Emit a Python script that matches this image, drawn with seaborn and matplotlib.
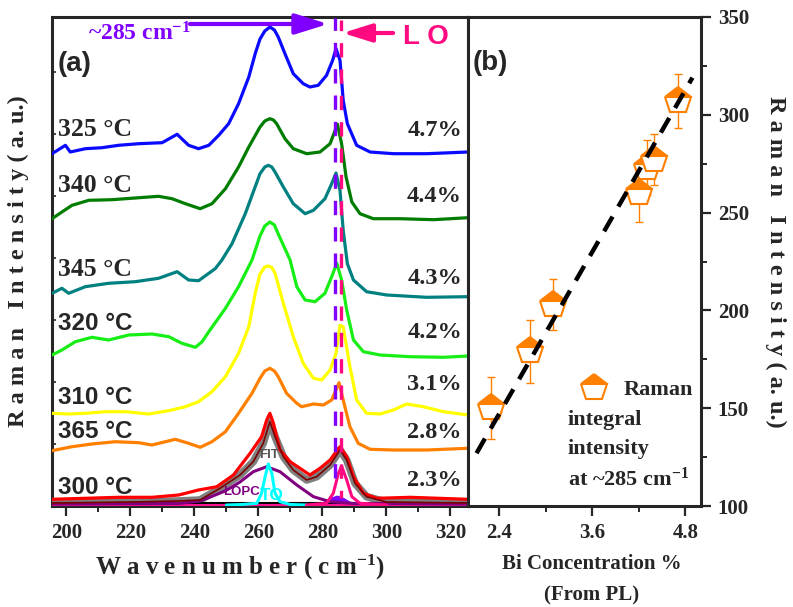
import matplotlib
matplotlib.use('Agg')
import matplotlib.pyplot as plt
import seaborn as sns
from matplotlib.ticker import MultipleLocator, FixedLocator, NullFormatter
from matplotlib.lines import Line2D

# ---------------- Panel (a): stacked Raman spectra (offset, a.u.) ----------------
temps = ['325 °C', '340 °C', '345 °C', '320 °C', '310 °C', '365 °C', '300 °C']
bi_pct = [4.7, 4.4, 4.3, 4.2, 3.1, 2.8, 2.3]
curve_colors = ['#0a0aff', '#007d00', '#008080', '#16ee16', '#ffff00', '#ff8000', '#ff0000']

wn_325 = [195.5, 199.7, 201.2, 205.9, 211.1, 216.3, 222.6, 229.9, 234.6, 238.2, 241.3, 244.5, 247.6,
          250.7, 253.8, 257.0, 259.0, 260.5, 262.0, 263.6, 265.0, 266.2, 268.3, 270.9, 274.0, 276.1,
          278.7, 281.3, 283.2, 284.25, 285.5, 286.5, 287.8, 290.7, 294.9, 302.2, 312.6, 325.5]
i_325 = [352.3, 360.7, 354, 357.3, 358.3, 360.7, 362.3, 363.3, 371.7, 360.7, 357.3, 360.7, 370.7,
         382.3, 402.3, 429, 452.3, 467, 475, 479, 476, 469, 452.3, 432.3, 422.3, 419,
         420.7, 430.7, 445.7, 457.3, 445.7, 405.7, 382.3, 360.7, 354, 352.3, 352.3, 354]

wn_340 = [195.5, 198.6, 201.75, 207.0, 214.25, 221.5, 228.8, 233.0, 237.2, 241.8, 245.5, 249.7, 253.8,
          257.0, 260.5, 262.0, 263.6, 264.7, 265.7, 268.3, 270.9, 275.1, 279.25, 282.4, 284.7, 286.0,
          287.4, 289.2, 291.75, 295.9, 304.25, 314.7, 325.5]
i_340 = [287.3, 294, 300.7, 305.7, 306.3, 308, 309.7, 307.3, 302.3, 297.3, 302.3, 317.3, 339,
         359, 379, 385, 387.3, 386, 382.3, 367.3, 357.3, 352.3, 354, 362.3, 381.7, 362.3,
         329, 304, 292.3, 287.3, 287.3, 286.3, 288.3]

wn_345 = [195.5, 198.6, 200.7, 205.9, 213.2, 221.5, 228.8, 234.6, 238.2, 241.3, 244.5, 246.5, 248.6,
          251.75, 255.9, 260.5, 262.0, 263.1, 264.2, 265.2, 267.8, 270.9, 274.6, 277.2, 280.8, 282.9,
          284.25, 285.5, 286.5, 287.8, 289.7, 293.8, 300.1, 312.6, 325.5]
i_345 = [212.7, 217.7, 212.7, 219.3, 222.7, 224.3, 227.7, 234.3, 226, 225.3, 232.7, 237.3, 246,
         262.3, 292.3, 332.3, 339, 340.7, 339, 334, 319, 302.3, 292.3, 295.7, 307.3, 322.3,
         333, 315.7, 275.7, 242.3, 226, 214.3, 211, 208.7, 209.3]

wn_320 = [195.5, 198.6, 202.8, 208.0, 213.2, 219.5, 226.75, 232.0, 236.1, 240.3, 242.4, 244.5, 249.7,
          253.8, 258.0, 260.5, 262.0, 263.6, 265.0, 266.2, 269.9, 272.0, 274.6, 277.7, 280.8, 282.9,
          284.5, 286.0, 287.6, 289.7, 292.8, 298.0, 307.4, 317.8, 325.5]
i_320 = [151, 156, 164.3, 168.7, 166, 171, 172, 169.3, 162.7, 158.7, 164.3, 174.3, 197.7,
         219.3, 246, 270, 280, 284, 281, 272, 246, 219.3, 206, 204.3, 212.7, 229.3,
         242.7, 226, 196, 166, 154.3, 151, 149.3, 148.7, 150]

wn_310 = [195.5, 200.7, 205.9, 212.2, 218.4, 225.7, 232.0, 237.2, 241.3, 245.5, 249.7, 253.8, 257.0,
          259.0, 260.5, 262.0, 263.1, 264.2, 265.2, 267.8, 270.9, 274.0, 277.2, 279.8, 282.4, 284.25,
          285.5, 286.5, 288.6, 290.7, 293.8, 298.0, 302.2, 306.3, 311.5, 317.8, 325.5]
i_310 = [92.7, 92, 92.7, 94.3, 94.3, 92, 95.3, 99.3, 104.3, 114.3, 129.3, 152.7, 179.3,
         212.7, 232, 239, 240, 238.5, 232.7, 202.7, 169.3, 142.7, 127.7, 126, 136, 152.7,
         180.7, 179.3, 139.3, 106, 92.7, 92, 96, 102, 99.3, 94.3, 91]

wn_365 = [195.5, 201.75, 208.0, 215.3, 222.6, 226.75, 234.0, 238.2, 241.8, 245.5, 249.7, 253.8, 258.0,
          260.5, 262.0, 263.6, 265.0, 266.2, 268.8, 272.0, 273.5, 277.2, 280.3, 282.9, 285.2, 286.5,
          288.6, 291.2, 294.9, 302.2, 312.6, 325.5]
i_365 = [55.3, 59.3, 62, 64.3, 63.3, 61, 66.7, 62.7, 58.7, 64.3, 74.3, 92.7, 112.7,
         127.7, 135, 137.7, 135, 129.3, 112.7, 102.7, 99.3, 102, 101, 106, 123.3, 106,
         79.3, 62.7, 56.7, 56, 56, 57.7]

wn_300 = [195.5, 205.9, 216.3, 226.75, 235.1, 241.3, 247.0, 252.2, 257.4, 261.0, 262.6, 263.6, 264.7,
          266.75, 269.9, 273.0, 276.1, 279.25, 282.4, 285.5, 287.6, 289.7, 292.8, 297.0, 307.4, 325.5]
i_300 = [6.7, 7.7, 8.7, 8.7, 11, 16, 19.3, 31, 52.7, 69.3, 86, 92.7, 82.7,
         56, 44.3, 37.7, 31, 37.7, 46, 59.3, 49.3, 29.3, 12.7, 7.7, 8.7, 6.7]

# peak-fit components of the 300 °C spectrum
wn_fit = [195.5, 220.0, 235.0, 241.75, 248.0, 254.25, 258.4, 261.5, 263.6, 265.2, 267.8, 270.9, 275.1,
          278.2, 282.4, 285.5, 287.6, 290.2, 293.8, 300.0, 325.5]
i_fit = [3, 4, 5, 6, 17.7, 31, 44.3, 62.7, 84.3, 69.3, 49.3, 36, 26,
         29.3, 41, 56, 46, 22.7, 9.3, 4, 3]
wn_lopc = [195.5, 235.0, 241.75, 245.0, 249.6, 254.25, 258.4, 262.6, 266.75, 272.0, 277.2, 282.4, 290.0, 325.5]
i_lopc = [2, 2.5, 5, 9, 15, 24, 34.3, 39.3, 34.3, 21, 9.3, 4.3, 2.5, 2]
wn_to = [250.0, 255.0, 259.5, 261.0, 262.1, 263.1, 264.2, 265.2, 266.75, 270.0, 275.0]
i_to = [1, 1.5, 2.7, 12.7, 29.3, 42, 32.7, 12.7, 4.3, 1.5, 1]
wn_lo = [275.0, 281.3, 283.4, 285.0, 286.0, 287.6, 289.2, 291.75, 300.0]
i_lo = [1, 2.7, 12.7, 32.7, 40, 26, 9.3, 2.7, 1]
wn_sp = [279.25, 282.4, 284.5, 286.5, 289.7]
i_sp = [2.7, 8.7, 11, 8.7, 2.7]
baseline_black = 3.5
baseline_pink = 1.5

# marker lines
purple_line_wn = 284.0
pink_line_wn = 285.8

# ---------------- Panel (b): integral intensity vs Bi concentration ----------------
bi_conc = [2.3, 2.8, 3.1, 4.2, 4.3, 4.4, 4.7]
raman_int = [150, 179, 203, 260, 273, 277, 307]
raman_err = [16, 16, 13, 15, 14, 13, 14]
fit_x = [2.11, 4.89]
fit_y = [127, 319]

# ---------------- style ----------------
sns.set_style('ticks')
SERIF = 'Liberation Serif'
SANS = 'Liberation Sans'
plt.rcParams['font.family'] = [SERIF, 'DejaVu Serif']
plt.rcParams['font.weight'] = 'bold'
plt.rcParams['mathtext.default'] = 'regular'

PURPLE = '#8000ff'
PINK = '#ff0a80'
ORANGE = '#ff8000'

fig = plt.figure(figsize=(7.93, 6.07), dpi=100)
ax = fig.add_axes([52 / 793, 1 - 506 / 607, 416 / 793, 489 / 607])
ax2 = fig.add_axes([468 / 793, 1 - 506 / 607, 233 / 793, 489 / 607])

# ---- panel (a)
spectra = [(wn_325, i_325), (wn_340, i_340), (wn_345, i_345), (wn_320, i_320),
           (wn_310, i_310), (wn_365, i_365)]
for (w, inten), c in zip(spectra, curve_colors[:6]):
    sns.lineplot(x=w, y=inten, ax=ax, color=c, lw=2.3, sort=False, estimator=None, zorder=3)

ax.fill_between(wn_sp, baseline_pink, i_sp, color=PURPLE, lw=0, zorder=2)
sns.lineplot(x=wn_fit, y=i_fit, ax=ax, color='#7f7f7f', lw=5.5, sort=False, estimator=None, zorder=3)
sns.lineplot(x=wn_300, y=i_300, ax=ax, color=curve_colors[6], lw=2.3, sort=False, estimator=None, zorder=4)
sns.lineplot(x=wn_fit, y=i_fit, ax=ax, color='#7a0000', lw=1.2, sort=False, estimator=None, zorder=5)
sns.lineplot(x=wn_lopc, y=i_lopc, ax=ax, color='#800080', lw=2.2, sort=False, estimator=None, zorder=4)
sns.lineplot(x=wn_to, y=i_to, ax=ax, color='#00ffff', lw=2.2, sort=False, estimator=None, zorder=4)
sns.lineplot(x=wn_lo, y=i_lo, ax=ax, color=PINK, lw=2.2, sort=False, estimator=None, zorder=4)
ax.axhline(baseline_black, color='black', lw=1.5, zorder=3)
ax.axhline(baseline_pink, color='#ff1090', lw=2.2, zorder=3)

ax.vlines([purple_line_wn], 28, 488, colors=PURPLE, lw=2.4, linestyles=[(0, (4.3, 3.6))], zorder=6)
ax.vlines([pink_line_wn], 8, 486, colors=PINK, lw=2.4, linestyles=[(2.0, (4.3, 3.6))], zorder=6)

ax.annotate('', xy=(281.8, 482), xytext=(238.6, 482),
            arrowprops=dict(arrowstyle='-|>,head_length=0.8,head_width=0.25', color=PURPLE,
                            lw=3, mutation_scale=25, shrinkA=0, shrinkB=0), zorder=7)
ax.annotate('', xy=(286.3, 473), xytext=(302.1, 473),
            arrowprops=dict(arrowstyle='-|>,head_length=0.8,head_width=0.25', color=PINK,
                            lw=3, mutation_scale=22, shrinkA=0, shrinkB=0), zorder=7)
ax.text(206.6, 472, '~285 cm$^{-1}$', color=PURPLE, fontsize=17, fontweight='bold',
        family=SERIF, ha='left', va='center')
ax.text(312.3, 469, 'L O', color=PINK, fontsize=20, fontweight='bold', family=SANS,
        ha='center', va='center')
ax.text(197.3, 442, '(a)', fontsize=20, fontweight='bold', family=SANS, ha='left', va='center')

temp_y = [376, 320, 237, 182, 109, 74, 19]
temp_font = [SERIF, SERIF, SERIF, SANS, SANS, SANS, SANS]
temp_size = [18.5, 18.5, 18.5, 17.5, 17.5, 17.5, 17.5]
pct_y = [375, 309, 227, 174, 121, 74, 26]
for t, ty, tf, ts, p, py in zip(temps, temp_y, temp_font, temp_size, bi_pct, pct_y):
    ax.text(197.3, ty, t, fontsize=ts, fontweight='bold', family=tf, ha='left', va='center', zorder=8)
    ax.text(323.6, py, f'{p:.1f}%', fontsize=17.5, fontweight='bold', family=SERIF,
            ha='right', va='center', zorder=8)
ax.text(263.3, 51, 'FIT', color='#555555', fontsize=9.5, fontweight='bold', family=SANS,
        ha='center', va='center', zorder=8)
ax.text(254.6, 14, 'LOPC', color='#800080', fontsize=9.5, fontweight='bold', family=SANS,
        ha='center', va='center', zorder=8)
ax.text(264.0, 10, 'TO', color='#00ffff', fontsize=12.5, fontweight='bold', family=SANS,
        ha='center', va='center', zorder=8)

ax.set_xlim(195.5, 325.5)
ax.set_ylim(0, 489)
ax.xaxis.set_major_locator(MultipleLocator(20))
ax.xaxis.set_minor_locator(MultipleLocator(10))
ax.yaxis.set_major_locator(MultipleLocator(62))
ax.yaxis.set_major_formatter(NullFormatter())
ax.tick_params(axis='x', which='major', direction='out', length=7, width=1.6, labelsize=15, pad=5)
ax.tick_params(axis='x', which='minor', direction='out', length=4, width=1.4)
ax.tick_params(axis='y', which='major', direction='in', length=3, width=1.2)
for lab in ax.get_xticklabels():
    lab.set_fontweight('bold')
    lab.set_family(SERIF)
for s in ax.spines.values():
    s.set_linewidth(2.2)
    s.set_visible(True)
ax.set_xlabel('W a v e n u m b e r ( c m$^{-1}$)', fontsize=18, fontweight='bold', family=SERIF)
ax.xaxis.set_label_coords(0.452, -0.096)
ax.set_ylabel('R a m a n   I n t e n s i t y ( a. u.)', fontsize=17.5, fontweight='bold', family=SERIF)
ax.yaxis.set_label_coords(-0.055, 0.50)

# ---- panel (b)
ax2.errorbar(bi_conc, raman_int, yerr=raman_err, fmt='none', ecolor=ORANGE, elinewidth=1.0,
             capsize=3, capthick=1.0, zorder=2)
ax2.plot(bi_conc, raman_int, ls='none', marker='p', ms=20, fillstyle='top',
         markerfacecolor=ORANGE, markerfacecoloralt='white', markeredgecolor=ORANGE,
         markeredgewidth=1.5, zorder=3)
sns.lineplot(x=fit_x, y=fit_y, ax=ax2, color='black', lw=3.2, sort=False, estimator=None,
             dashes=False, zorder=4)
ax2.lines[-1].set_linestyle((0, (3.8, 2.6)))

ax2.set_xlim(2.0, 5.0)
ax2.set_ylim(100, 350)
ax2.xaxis.set_major_locator(FixedLocator([2.4, 3.6, 4.8]))
ax2.xaxis.set_minor_locator(FixedLocator([3.0, 4.2]))
ax2.yaxis.set_major_locator(MultipleLocator(50))
ax2.yaxis.set_minor_locator(MultipleLocator(25))
ax2.yaxis.tick_right()
ax2.yaxis.set_label_position('right')
ax2.tick_params(axis='both', which='major', direction='out', length=7, width=1.6, labelsize=15, pad=5)
ax2.tick_params(axis='both', which='minor', direction='out', length=4, width=1.4)
ax2.tick_params(axis='y', which='both', left=False, right=True)
for lab in ax2.get_xticklabels() + ax2.get_yticklabels():
    lab.set_fontweight('bold')
    lab.set_family(SERIF)
for s in ax2.spines.values():
    s.set_linewidth(2.2)
    s.set_visible(True)
ax2.text(0.021, 0.906, '(b)', transform=ax2.transAxes, fontsize=20, fontweight='bold',
         family=SANS, ha='left', va='center')

ax2.set_xlabel('Bi Concentration %\n(From PL)', fontsize=15, fontweight='bold', family=SERIF,
               linespacing=1.75)
ax2.xaxis.set_label_coords(0.532, -0.098)
ax2.set_ylabel('R a m a n   I n t e n s i t y ( a. u.)', fontsize=17.5, fontweight='bold',
               family=SERIF, rotation=-90, va='center', ha='center')
ax2.yaxis.set_label_coords(1.318, 0.50)

handle = Line2D([], [], ls='none', marker='p', ms=20, fillstyle='top', markerfacecolor=ORANGE,
                markerfacecoloralt='white', markeredgecolor=ORANGE, markeredgewidth=1.5)
leg = ax2.legend([handle], ['Raman'], loc='center left', bbox_to_anchor=(578 / 793, 1 - 390 / 607),
                 bbox_transform=fig.transFigure, frameon=False, borderpad=0, borderaxespad=0,
                 handlelength=1.4, handletextpad=0.65, prop=dict(family=SERIF, weight='bold', size=16))
ax2.text(568 / 793, 1 - 420 / 607, 'integral', transform=fig.transFigure, fontsize=16,
         fontweight='bold', family=SERIF, ha='left', va='center')
ax2.text(568 / 793, 1 - 449 / 607, 'intensity', transform=fig.transFigure, fontsize=16,
         fontweight='bold', family=SERIF, ha='left', va='center')
ax2.text(568 / 793, 1 - 479 / 607, 'at ~285 cm$^{-1}$', transform=fig.transFigure, fontsize=16,
         fontweight='bold', family=SERIF, ha='left', va='center')

fig.savefig('out.png', dpi=100)
